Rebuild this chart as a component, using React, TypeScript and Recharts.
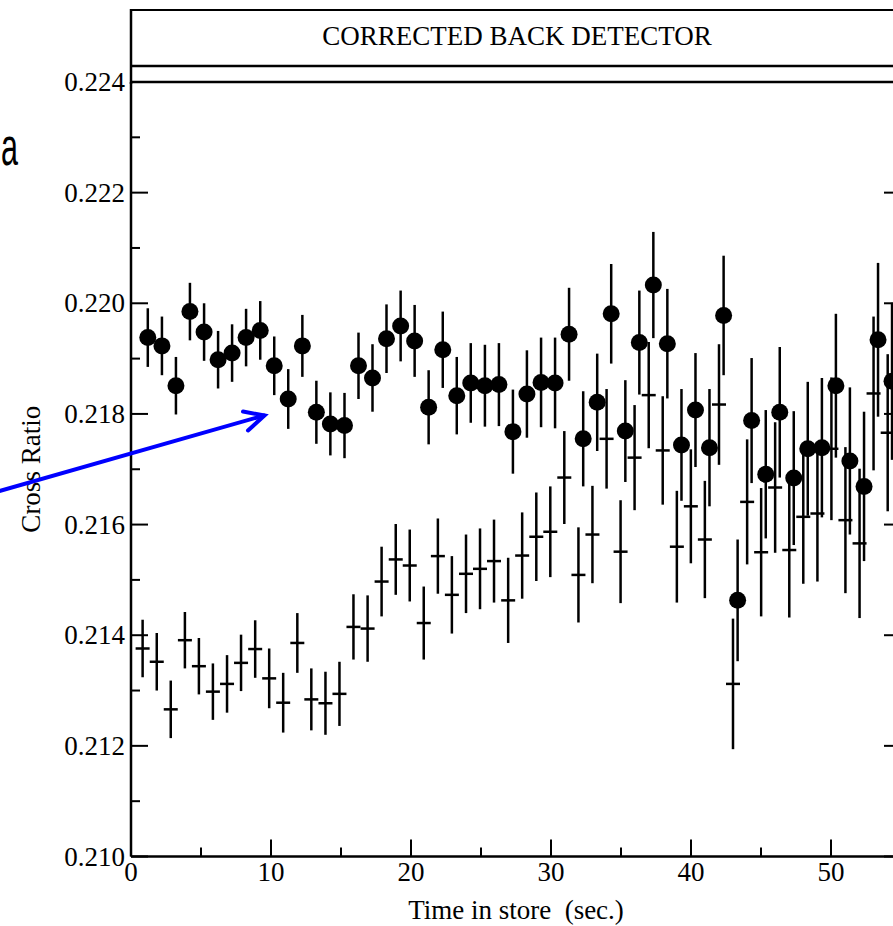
import React from 'react';
import { ScatterChart, Scatter, XAxis, YAxis, ErrorBar } from 'recharts';

// times (sec.) of the two measurement series
const dotTime = [
  1.2, 2.21, 3.21, 4.21, 5.22, 6.22, 7.22, 8.22, 9.23, 10.23,
  11.23, 12.24, 13.24, 14.24, 15.25, 16.25, 17.25, 18.25, 19.26, 20.26,
  21.26, 22.27, 23.27, 24.27, 25.28, 26.28, 27.28, 28.28, 29.29, 30.29,
  31.29, 32.3, 33.3, 34.3, 35.31, 36.31, 37.31, 38.31, 39.32, 40.32,
  41.32, 42.33, 43.33, 44.33, 45.34, 46.34, 47.34, 48.34, 49.35, 50.35,
  51.35, 52.36, 53.36, 54.36,
];
const dotValue = [
  0.21938, 0.21923, 0.21851, 0.21985, 0.21948, 0.21898, 0.2191, 0.21938, 0.21951, 0.21887,
  0.21827, 0.21923, 0.21803, 0.21782, 0.21779, 0.21887, 0.21865, 0.21936, 0.21959, 0.21932,
  0.21812, 0.21916, 0.21833, 0.21856, 0.21851, 0.21853, 0.21768, 0.21836, 0.21857, 0.21856,
  0.21944, 0.21755, 0.21821, 0.21981, 0.21769, 0.21929, 0.22033, 0.21927, 0.21744, 0.21807,
  0.21739, 0.21978, 0.21463, 0.21788, 0.21691, 0.21803, 0.21684, 0.21737, 0.21739, 0.21851,
  0.21715, 0.21669, 0.21934, 0.21859,
];
const dotErr = [
  0.00053, 0.00053, 0.00052, 0.00052, 0.00052, 0.00052, 0.00052, 0.00052, 0.00053, 0.00053,
  0.00054, 0.00056, 0.00057, 0.00057, 0.00059, 0.0006, 0.00061, 0.00062, 0.00064, 0.00065,
  0.00067, 0.00069, 0.0007, 0.00072, 0.00074, 0.00075, 0.00076, 0.00079, 0.00081, 0.00082,
  0.00084, 0.00086, 0.00088, 0.0009, 0.00092, 0.00094, 0.00096, 0.00099, 0.00101, 0.00103,
  0.00106, 0.00108, 0.0011, 0.00113, 0.00116, 0.00118, 0.00121, 0.00121, 0.00126, 0.0013,
  0.00133, 0.00135, 0.00139, 0.00142,
];

const crossTime = [
  0.83, 1.84, 2.84, 3.85, 4.85, 5.85, 6.86, 7.86, 8.87, 9.87,
  10.87, 11.88, 12.88, 13.89, 14.89, 15.89, 16.9, 17.9, 18.91, 19.91,
  20.91, 21.92, 22.92, 23.93, 24.93, 25.93, 26.94, 27.94, 28.95, 29.95,
  30.95, 31.96, 32.96, 33.97, 34.97, 35.97, 36.98, 37.98, 38.99, 39.99,
  40.99, 42.0, 43.0, 44.01, 45.01, 46.01, 47.02, 48.02, 49.03, 50.03,
  51.03, 52.04, 53.04, 54.05,
];
const crossValue = [
  0.21376, 0.21352, 0.21266, 0.21391, 0.21344, 0.21298, 0.21312, 0.2135, 0.21375, 0.21322,
  0.21278, 0.21386, 0.21284, 0.21277, 0.21294, 0.21415, 0.21412, 0.21497, 0.21537, 0.21526,
  0.21422, 0.21543, 0.21473, 0.21511, 0.2152, 0.21534, 0.21463, 0.21544, 0.21578, 0.21587,
  0.21685, 0.21509, 0.21582, 0.21755, 0.21551, 0.21721, 0.21834, 0.21734, 0.2156, 0.21633,
  0.21573, 0.21817, 0.21312, 0.21641, 0.2155, 0.21667, 0.21554, 0.21614, 0.2162, 0.21737,
  0.21608, 0.21566, 0.21837, 0.21766,
];
const crossErr = [
  0.00052, 0.00052, 0.00052, 0.00051, 0.00051, 0.00051, 0.00052, 0.00051, 0.00052, 0.00054,
  0.00054, 0.00054, 0.00056, 0.00057, 0.00058, 0.00059, 0.0006, 0.00063, 0.00064, 0.00065,
  0.00066, 0.00068, 0.0007, 0.00071, 0.00073, 0.00075, 0.00077, 0.00078, 0.0008, 0.00082,
  0.00084, 0.00086, 0.00088, 0.0009, 0.00093, 0.00095, 0.00096, 0.00098, 0.00101, 0.00103,
  0.00106, 0.00109, 0.00118, 0.00113, 0.00116, 0.00118, 0.00122, 0.00121, 0.00123, 0.00129,
  0.00132, 0.00135, 0.00139, 0.00142,
];

const yTicks = [
  0.21, 0.211, 0.212, 0.213, 0.214, 0.215, 0.216, 0.217, 0.218, 0.219, 0.22, 0.221, 0.222, 0.223, 0.224,
];
const xTicks = [0, 5, 10, 15, 20, 25, 30, 35, 40, 45, 50, 55];

const FONT = '"Liberation Serif", "Times New Roman", serif';

const dots = dotTime.map((t, i) => ({ x: t, y: dotValue[i], err: dotErr[i] }));
const crosses = crossTime.map((t, i) => ({ x: t, y: crossValue[i], err: crossErr[i] }));

const isMajorY = (v: number) => Math.round(v * 1000) % 2 === 0;

const LeftTick = ({ x, y, payload }: any) => {
  const major = isMajorY(payload.value);
  return (
    <g>
      <line x1={x} y1={y} x2={x + (major ? 17 : 9)} y2={y} stroke="#000" strokeWidth={2} />
      {major && (
        <text x={x - 6} y={y + 9} textAnchor="end" fontSize={27} fontFamily={FONT} fill="#000">
          {payload.value.toFixed(3)}
        </text>
      )}
    </g>
  );
};

// right axis sits just past the window edge, only the major ticks peek in
const RightTick = ({ x, y, payload }: any) => {
  if (!isMajorY(payload.value)) return <g />;
  return <line x1={x} y1={y} x2={x - 17} y2={y} stroke="#000" strokeWidth={2} />;
};

const BottomTick = ({ x, y, payload }: any) => {
  const major = payload.value % 10 === 0;
  return (
    <g>
      <line x1={x} y1={y} x2={x} y2={y - (major ? 17 : 9)} stroke="#000" strokeWidth={2} />
      {major && (
        <text x={x} y={y + 24} textAnchor="middle" fontSize={27} fontFamily={FONT} fill="#000">
          {payload.value}
        </text>
      )}
    </g>
  );
};

const TopTick = ({ x, y, payload }: any) => {
  const major = payload.value % 10 === 0;
  return <line x1={x} y1={y} x2={x} y2={y + (major ? 17 : 9)} stroke="#000" strokeWidth={2} />;
};

const Dot = ({ cx, cy }: any) => <circle cx={cx} cy={cy} r={8.5} fill="#000" />;
const Cross = ({ cx, cy }: any) => (
  <line x1={cx - 7} y1={cy} x2={cx + 7} y2={cy} stroke="#000" strokeWidth={2.5} />
);

export default function App() {
  const axisLine = { stroke: '#000', strokeWidth: 2.5 };
  return (
    <div style={{ position: 'relative', width: 893, height: 926, overflow: 'hidden', background: '#fff' }}>
      <style>{'body{margin:0;overflow:hidden;}'}</style>
      <ScatterChart width={908} height={926} margin={{ top: 81, right: 0, bottom: 0.5, left: 0 }}>
        <XAxis
          xAxisId="b"
          dataKey="x"
          type="number"
          domain={[0, 55]}
          ticks={xTicks}
          interval={0}
          allowDataOverflow
          height={69}
          tickSize={0}
          tickMargin={0}
          tickLine={false}
          axisLine={axisLine}
          tick={BottomTick}
          label={{
            value: 'Time in store\u00A0 (sec.)',
            position: 'insideBottom',
            offset: 6.5,
            fontSize: 27,
            fontFamily: FONT,
            fill: '#000',
          }}
        />
        <XAxis
          xAxisId="t"
          orientation="top"
          type="number"
          domain={[0, 55]}
          ticks={xTicks}
          interval={0}
          allowDataOverflow
          height={1}
          tickSize={0}
          tickMargin={0}
          tickLine={false}
          axisLine={axisLine}
          tick={TopTick}
        />
        <YAxis
          yAxisId="l"
          dataKey="y"
          type="number"
          domain={[0.21, 0.224]}
          ticks={yTicks}
          interval={0}
          allowDataOverflow
          width={131}
          tickSize={0}
          tickMargin={0}
          tickLine={false}
          axisLine={axisLine}
          tick={LeftTick}
          label={{
            value: 'Cross Ratio',
            angle: -90,
            position: 'insideLeft',
            offset: 30,
            fontSize: 27,
            fontFamily: FONT,
            fill: '#000',
            style: { textAnchor: 'middle' },
          }}
        />
        <YAxis
          yAxisId="r"
          orientation="right"
          type="number"
          domain={[0.21, 0.224]}
          ticks={yTicks}
          interval={0}
          allowDataOverflow
          width={7}
          tickSize={0}
          tickMargin={0}
          tickLine={false}
          axisLine={axisLine}
          tick={RightTick}
        />
        <Scatter xAxisId="b" yAxisId="l" data={crosses} shape={Cross} isAnimationActive={false}>
          <ErrorBar dataKey="err" direction="y" width={0} stroke="#000" strokeWidth={2.5} isAnimationActive={false} />
        </Scatter>
        <Scatter xAxisId="b" yAxisId="l" data={dots} shape={Dot} isAnimationActive={false}>
          <ErrorBar dataKey="err" direction="y" width={0} stroke="#000" strokeWidth={2.5} isAnimationActive={false} />
        </Scatter>
      </ScatterChart>

      <svg width={893} height={926} style={{ position: 'absolute', left: 0, top: 0, pointerEvents: 'none' }}>
        {/* header box above the plot */}
        <line x1={131} y1={10} x2={893} y2={10} stroke="#000" strokeWidth={2} />
        <line x1={131} y1={66} x2={893} y2={66} stroke="#000" strokeWidth={2.5} />
        <line x1={131} y1={9} x2={131} y2={84} stroke="#000" strokeWidth={2.5} />
        <text x={517} y={45} textAnchor="middle" fontSize={27} fontFamily={FONT} fill="#000">
          CORRECTED BACK DETECTOR
        </text>
        {/* slide annotation */}
        <text
          x={1}
          y={165}
          fontSize={54}
          textLength={17}
          lengthAdjust="spacingAndGlyphs"
          fontFamily='"Liberation Sans", Arial, sans-serif'
          fill="#000"
        >
          a
        </text>
        <g stroke="#0000ff" strokeWidth={4} fill="none" strokeLinecap="round">
          <line x1={-2} y1={491.5} x2={264} y2={415.5} />
          <polyline points="243,411.5 264.5,415.5 248,430.5" />
        </g>
      </svg>
    </div>
  );
}
